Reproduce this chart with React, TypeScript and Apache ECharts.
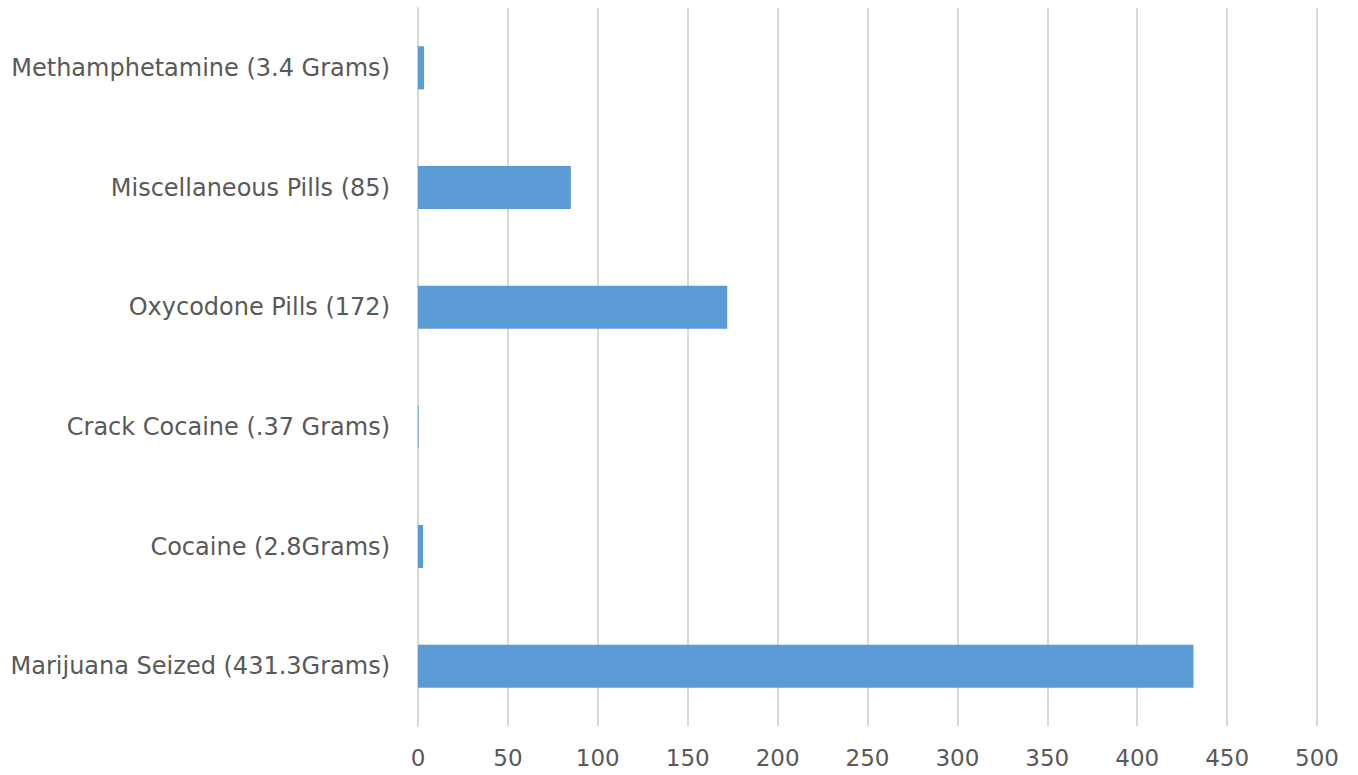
import React, { useEffect, useRef } from "react";
import * as echarts from "echarts";

const categories = [
  "Marijuana Seized (431.3Grams)",
  "Cocaine (2.8Grams)",
  "Crack Cocaine (.37 Grams)",
  "Oxycodone Pills (172)",
  "Miscellaneous Pills (85)",
  "Methamphetamine (3.4 Grams)",
];
const values = [431.3, 2.8, 0.37, 172, 85, 3.4];
const xMin = 0;
const xMax = 500;
const xInterval = 50;

export default function App() {
  const ref = useRef<HTMLDivElement>(null);
  useEffect(() => {
    if (!ref.current) return;
    const chart = echarts.init(ref.current, undefined, { renderer: "svg" });
    chart.setOption({
      animation: false,
      backgroundColor: "#ffffff",
      grid: { left: 418, right: 41, top: 8, bottom: 49, containLabel: false },
      xAxis: {
        type: "value",
        min: xMin,
        max: xMax,
        interval: xInterval,
        axisLine: { show: false },
        axisTick: { show: false },
        splitLine: { show: true, lineStyle: { color: "#d9d9d9", width: 2 } },
        axisLabel: {
          color: "#595959",
          fontSize: 23,
          fontFamily: "DejaVu Sans",
          margin: 20,
        },
      },
      yAxis: {
        type: "category",
        data: categories,
        axisLine: { show: true, lineStyle: { color: "#d9d9d9", width: 2 } },
        axisTick: { show: false },
        axisLabel: {
          color: "#595959",
          fontSize: 24,
          fontFamily: "DejaVu Sans",
          margin: 28,
        },
      },
      series: [
        {
          type: "bar",
          data: values,
          barWidth: "36%",
          itemStyle: { color: "#5b9bd5" },
        },
      ],
    });
    return () => chart.dispose();
  }, []);
  return (
    <div
      ref={ref}
      style={{ position: "fixed", left: 0, top: 0, width: 1358, height: 775 }}
    />
  );
}
